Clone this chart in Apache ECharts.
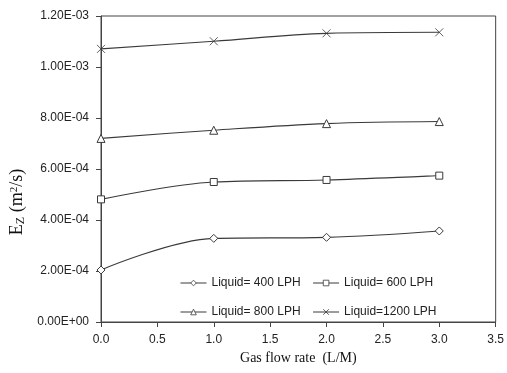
<!DOCTYPE html>
<html>
<head>
<meta charset="utf-8">
<script src="https://cdn.jsdelivr.net/npm/echarts@6/dist/echarts.min.js"></script>
<style>
  html, body { margin: 0; padding: 0; background: #fff; }
  #chart { width: 507px; height: 373px; }
</style>
</head>
<body>
<div id="chart"></div>
<script>
// gas flow rate (L/M)
const gasFlow = [0, 1, 2, 3]
// axial dispersion coefficient for each liquid rate
const liquid400 = [2.04e-4, 3.28e-4, 3.32e-4, 3.57e-4]
const liquid600 = [4.81e-4, 5.49e-4, 5.57e-4, 5.74e-4]
const liquid800 = [7.20e-4, 7.52e-4, 7.78e-4, 7.86e-4]
const liquid1200 = [1.071e-3, 1.101e-3, 1.132e-3, 1.136e-3]
const seriesNames = ['Liquid= 400 LPH', 'Liquid= 600 LPH', 'Liquid= 800 LPH', 'Liquid=1200 LPH']

const chart = echarts.init(document.getElementById('chart'))

const pair = (ys) => gasFlow.map((x, i) => [x, ys[i]])

const lineColor = '#3a3a3a'
const makeSeries = (name, ys, symbol, size, bw) => ({
  name: name,
  type: 'line',
  data: pair(ys),
  smooth: 0.35,
  symbol: symbol,
  symbolSize: size,
  lineStyle: { color: lineColor, width: 1.1 },
  itemStyle: { color: '#fff', borderColor: lineColor, borderWidth: bw },
  emphasis: { disabled: true }
})

// format like Excel scientific: 1.20E-03
const sci = (v) => {
  if (v === 0) return '0.00E+00'
  const e = Math.floor(Math.log10(Math.abs(v)) + 1e-9)
  const m = v / Math.pow(10, e)
  const es = (e < 0 ? '-' : '+') + String(Math.abs(e)).padStart(2, '0')
  return m.toFixed(2) + 'E' + es
}

const xMark = 'path://M0,0L10,10M10,0L0,10'

const legendText = { fontFamily: 'Liberation Sans, sans-serif', fontSize: 12, color: '#222' }
const legendBase = {
  left: 175, itemWidth: 26, itemHeight: 7, itemGap: 12,
  lineStyle: { width: 1 },
  itemStyle: { borderWidth: 0.8 },
  textStyle: legendText
}

chart.setOption({
  animation: false,
  grid: { left: 101, right: 11, top: 16, bottom: 51, show: true, borderColor: '#444', borderWidth: 1 },
  legend: [
    Object.assign({ data: [seriesNames[0], seriesNames[1]], top: 272 }, legendBase),
    Object.assign({ data: [seriesNames[2], seriesNames[3]], top: 301 }, legendBase)
  ],
  xAxis: {
    type: 'value',
    min: 0, max: 3.5, interval: 0.5,
    name: 'Gas flow rate  (L/M)',
    nameLocation: 'middle',
    nameGap: 26,
    nameTextStyle: { fontFamily: 'Liberation Serif, serif', fontSize: 14, color: '#111' },
    axisLine: { show: true, lineStyle: { color: '#444' } },
    axisTick: { show: true, length: 5, lineStyle: { color: '#444' } },
    axisLabel: {
      formatter: (v) => v.toFixed(1),
      fontFamily: 'Liberation Sans, sans-serif', fontSize: 12, color: '#222', margin: 12
    },
    splitLine: { show: false }
  },
  yAxis: {
    type: 'value',
    min: 0, max: 1.2e-3, interval: 2e-4,
    name: '{e|E}{sub|Z}{e| (m}{sup|2}{e|/s)}',
    nameLocation: 'middle',
    nameGap: 74,
    nameTextStyle: {
      padding: [0, 66, 0, 0],
      rich: {
        e: { fontFamily: 'Liberation Serif, serif', fontSize: 18, color: '#111' },
        sub: { fontFamily: 'Liberation Serif, serif', fontSize: 12, color: '#111', verticalAlign: 'bottom', padding: [6, 0, 0, 0] },
        sup: { fontFamily: 'Liberation Serif, serif', fontSize: 11, color: '#111', verticalAlign: 'top', padding: [0, 0, 7, 0] }
      }
    },
    axisLine: { show: true, lineStyle: { color: '#444' } },
    axisTick: { show: true, length: 5, lineStyle: { color: '#444' } },
    axisLabel: {
      formatter: sci,
      fontFamily: 'Liberation Sans, sans-serif', fontSize: 12, color: '#222', margin: 12
    },
    splitLine: { show: false }
  },
  series: [
    makeSeries(seriesNames[0], liquid400, 'diamond', 8, 1),
    makeSeries(seriesNames[1], liquid600, 'rect', 7, 1),
    makeSeries(seriesNames[2], liquid800, 'triangle', 8, 1),
    makeSeries(seriesNames[3], liquid1200, xMark, 8, 0.8)
  ]
})
</script>
</body>
</html>
